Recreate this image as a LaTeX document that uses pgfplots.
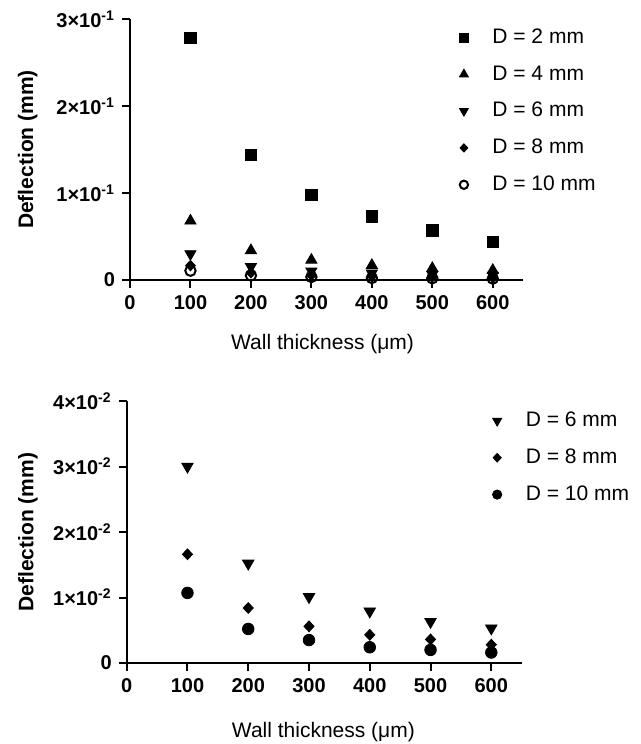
\documentclass[border=0pt]{standalone}
\usepackage{fontspec}
\setmainfont{Liberation Sans}
\usepackage{pgfplots}
\pgfplotsset{compat=1.18}

\pgfplotsset{
  defl/.style={
    scale only axis,
    axis lines=left,
    axis line style={line width=1pt,-},
    tick style={line width=1pt,black},
    major tick length=4pt,
    tick align=outside,
    xmin=0, xmax=650,
    xtick={0,100,...,600},
    xticklabels={0,100,200,300,400,500,600},
    scaled y ticks=false,
    ticklabel style={font=\fontsize{10}{12}\selectfont\bfseries},
    clip=false,
    legend style={draw=none, fill=none, font=\fontsize{10.5}{12}\selectfont,
      row sep=5.6pt, legend cell align=left,
      /tikz/every odd column/.append style={column sep=10pt}},
    legend image post style={scale=0.8},
    every axis y label/.style={rotate=90, anchor=center},
    every axis x label/.style={anchor=center},
    ylabel={\bfseries Deflection (mm)},
    xlabel={Wall thickness (μm)},
    label style={font=\fontsize{10.5}{12}\selectfont},
  }
}

\begin{document}
\begin{tikzpicture}
\useasboundingbox (0pt,0pt) rectangle (320.5pt,-372pt);

% top panel
\begin{axis}[defl,
  at={(65pt,-140pt)}, anchor=south west,
  width=196.5pt, height=130.5pt,
  ymin=0, ymax=0.3,
  ytick={0,0.1,0.2,0.3},
  yticklabels={0,1×10\textsuperscript{-1},2×10\textsuperscript{-1},3×10\textsuperscript{-1}},
  y label style={at={(axis description cs:-0.26,0.5)}},
  x label style={at={(axis description cs:0.49,-0.245)}},
  legend style={at={(axis description cs:0.822,0.995)}, anchor=north west},
]
\addplot[only marks, mark=square*, mark size=2.8pt, black]
  coordinates {(100,0.278) (200,0.144) (300,0.098) (400,0.073) (500,0.057) (600,0.044)};
\addlegendentry{D = 2 mm}
\addplot[only marks, mark=triangle*, mark size=3.2pt, black]
  coordinates {(100,0.068) (200,0.034) (300,0.023) (400,0.017) (500,0.0135) (600,0.0113)};
\addlegendentry{D = 4 mm}
\addplot[only marks, mark=triangle*, mark options={rotate=180}, mark size=3.2pt, black]
  coordinates {(100,0.030) (200,0.0152) (300,0.0101) (400,0.0079) (500,0.0063) (600,0.0053)};
\addlegendentry{D = 6 mm}
\addplot[only marks, mark=diamond*, mark options={xscale=1.25}, mark size=2.6pt, black]
  coordinates {(100,0.0166) (200,0.0084) (300,0.0056) (400,0.0043) (500,0.0036) (600,0.0028)};
\addlegendentry{D = 8 mm}
\addplot[only marks, mark=o, mark size=2.6pt, line width=1pt, black]
  coordinates {(100,0.0107) (200,0.0052) (300,0.0035) (400,0.0023) (500,0.0020) (600,0.0016)};
\addlegendentry{D = 10 mm}
\end{axis}

% bottom panel
\begin{axis}[defl,
  at={(63.35pt,-331.5pt)}, anchor=south west,
  width=197.5pt, height=131pt,
  ymin=0, ymax=0.04,
  ytick={0,0.01,0.02,0.03,0.04},
  yticklabels={0,1×10\textsuperscript{-2},2×10\textsuperscript{-2},3×10\textsuperscript{-2},4×10\textsuperscript{-2}},
  y label style={at={(axis description cs:-0.25,0.5)}},
  x label style={at={(axis description cs:0.498,-0.262)}},
  legend style={at={(axis description cs:0.91,0.99)}, anchor=north west},
]
\addplot[only marks, mark=triangle*, mark options={rotate=180}, mark size=3.3pt, black]
  coordinates {(100,0.030) (200,0.0152) (300,0.0101) (400,0.0079) (500,0.0063) (600,0.0053)};
\addlegendentry{D = 6 mm}
\addplot[only marks, mark=diamond*, mark options={xscale=1.25}, mark size=2.7pt, black]
  coordinates {(100,0.0166) (200,0.0084) (300,0.0056) (400,0.0043) (500,0.0036) (600,0.0028)};
\addlegendentry{D = 8 mm}
\addplot[only marks, mark=*, mark size=2.9pt, black]
  coordinates {(100,0.0107) (200,0.0052) (300,0.0035) (400,0.0024) (500,0.0020) (600,0.0016)};
\addlegendentry{D = 10 mm}
\end{axis}
\end{tikzpicture}
\end{document}
